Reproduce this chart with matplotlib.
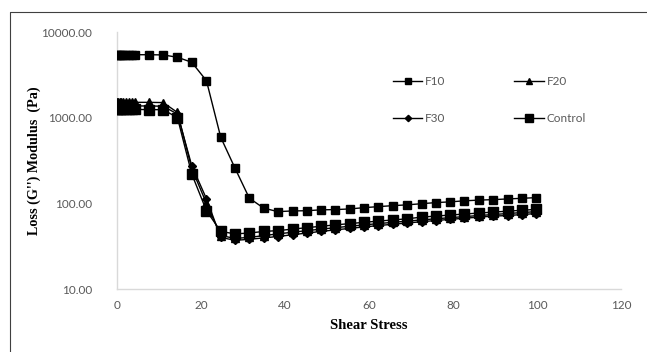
import matplotlib
matplotlib.use("Agg")
import matplotlib.pyplot as plt
from matplotlib.lines import Line2D

# Shear stress (x) values shared by all series
shear_stress = [0.1, 0.3, 0.6, 1.0, 1.5, 2.1, 2.8, 3.5, 4.2,
                7.6, 11.0, 14.4, 17.8, 21.3, 24.7, 28.1, 31.5, 34.9,
                38.3, 41.8, 45.2, 48.6, 52.0, 55.4, 58.8, 62.2, 65.7,
                69.1, 72.5, 75.9, 79.3, 82.7, 86.1, 89.6, 93.0, 96.4, 99.8]

f10 = [5430, 5430, 5430, 5430, 5430, 5430, 5430, 5430, 5430,
       5430, 5400, 5070, 4430, 2700, 590, 257, 115, 88,
       80, 81.5, 82, 84, 84.5, 86, 89, 91.5, 94,
       96, 99, 102, 104, 107, 109, 110.5, 112.5, 114.5, 116.5]

f20 = [1520, 1520, 1520, 1520, 1520, 1520, 1520, 1520, 1510,
       1510, 1500, 1150, 255, 100, 42, 39, 40, 42,
       44, 46, 48, 50, 52, 54, 56, 58, 60,
       62, 64, 66, 68, 70, 72, 74, 76, 78, 80]

f30 = [1380, 1380, 1380, 1380, 1380, 1380, 1380, 1380, 1370,
       1370, 1360, 1100, 275, 113, 40, 37, 38, 39.5,
       41, 43, 45, 47, 49, 51, 53, 55, 57,
       59, 61, 63, 65, 67, 69, 71, 72, 74, 76]

control = [1250, 1250, 1250, 1250, 1250, 1250, 1250, 1250, 1250,
           1240, 1240, 1000, 220, 82, 47, 44, 45, 47,
           48, 50, 52, 54, 56, 58, 60, 62, 64,
           66, 69, 71, 73, 75, 77, 79, 81, 83, 85]

series_names = ["F10", "F20", "F30", "Control"]

W, H = 647, 352
fig = plt.figure(figsize=(W / 100, H / 100), dpi=100)
ax = fig.add_axes([117 / W, 1 - 289 / H, (621 - 117) / W, (289 - 32) / H])

tick_font = "Lato"
grey = "#595959"
fs = 8.5

h10, = ax.plot(shear_stress, f10, color="black", lw=1.0, marker="s", ms=5.5, label=series_names[0], zorder=3)
h20, = ax.plot(shear_stress, f20, color="black", lw=1.0, marker="^", ms=5.5, label=series_names[1], zorder=3)
h30, = ax.plot(shear_stress, f30, color="black", lw=1.0, marker="D", ms=3.8, label=series_names[2], zorder=3)
hc, = ax.plot(shear_stress, control, color="black", lw=1.0, marker="s", ms=6.5, label=series_names[3], zorder=4)

ax.set_yscale("log")
ax.set_ylim(10, 10000)
ax.set_xlim(0, 120)
ax.set_xticks([0, 20, 40, 60, 80, 100, 120])
ax.set_yticks([10, 100, 1000, 10000])
ax.set_yticklabels(["10.00", "100.00", "1000.00", "10000.00"])
ax.yaxis.set_minor_locator(matplotlib.ticker.NullLocator())

for lab in ax.get_xticklabels() + ax.get_yticklabels():
    lab.set_fontfamily(tick_font)
    lab.set_fontsize(fs)
    lab.set_color(grey)
ax.tick_params(axis="y", length=0, pad=18)
ax.tick_params(axis="x", length=0, pad=8)

for s in ["top", "right"]:
    ax.spines[s].set_visible(False)
for s in ["left", "bottom"]:
    ax.spines[s].set_color("#d9d9d9")
    ax.spines[s].set_linewidth(1.0)

ax.set_xlabel("Shear Stress", fontfamily="Liberation Serif", fontweight="bold", fontsize=10.5, labelpad=6)
ax.set_ylabel("Loss (G'') Modulus  (Pa)", fontfamily="Liberation Serif", fontweight="bold", fontsize=10.2, labelpad=0)

leg = fig.legend([h10, h30, h20, hc], [series_names[0], series_names[2], series_names[1], series_names[3]],
                 loc="upper left", bbox_to_anchor=(387 / W, 1 - 70 / H), ncol=2, frameon=False,
                 borderpad=0, handlelength=2.5, handletextpad=0.25, columnspacing=5.8,
                 labelspacing=2.2, markerscale=0.85, prop={"family": tick_font, "size": fs})
for t in leg.get_texts():
    t.set_color(grey)

# partial outer border (left and top only, as in the reference)
fig.add_artist(Line2D([9.5 / W, 9.5 / W, 1.0], [0.0, 1 - 11.5 / H, 1 - 11.5 / H],
                      transform=fig.transFigure, color="#404040", lw=0.8))

fig.savefig("out.png", dpi=100)
